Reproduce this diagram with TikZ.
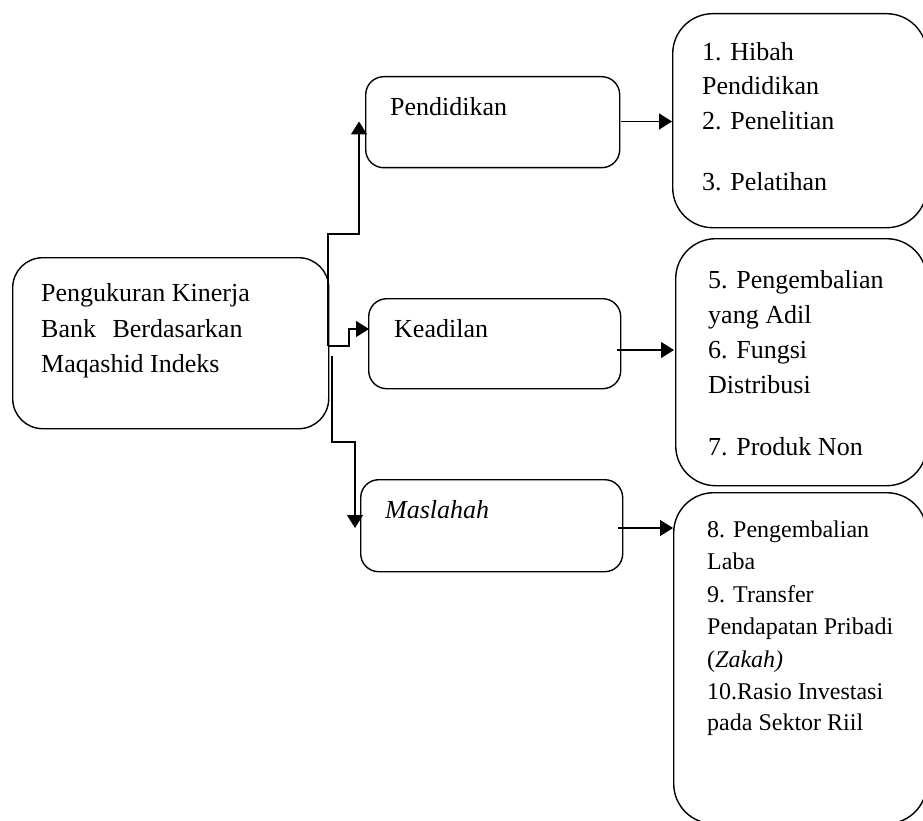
\documentclass[tikz,border=0pt]{standalone}
\usepackage{fontspec}
\setmainfont{Liberation Serif}
\usetikzlibrary{arrows.meta}
\begin{document}
\begin{tikzpicture}[x=1pt,y=-1pt,
  box/.style={draw, line width=1.4pt, anchor=north west, inner sep=0pt},
  small/.style={box, rounded corners=18pt},
  big/.style={box, rounded corners=40pt},
  txt/.style={anchor=base west, inner sep=0pt, font=\fontsize{26}{30}\selectfont},
  txts/.style={anchor=base west, inner sep=0pt, font=\fontsize{24}{28}\selectfont},
  arr/.style={line width=1.4pt, -{Triangle[length=13pt,width=16pt]}},
  ln/.style={line width=1.4pt}]
\path[use as bounding box] (0,0) rectangle (923,821);
\begin{scope}
\clip (0,0) rectangle (923,821);
% boxes
\node[box, rounded corners=30pt, minimum width=316pt, minimum height=171pt] (main) at (12,257) {};
\node[small, minimum width=254pt, minimum height=91pt] (pend) at (365,76) {};
\node[small, minimum width=252pt, minimum height=90pt] (kead) at (368,298) {};
\node[small, minimum width=262pt, minimum height=92pt] (masl) at (360,479) {};
\node[big, minimum width=254pt, minimum height=214pt] (r1) at (672,13) {};
\node[big, minimum width=251pt, minimum height=247pt] (r2) at (675,238) {};
\node[big, minimum width=253pt, minimum height=331pt] (r3) at (673,492) {};
% texts
\node[txt] (t1) at (41,301) {Pengukuran Kinerja};
\node[txt] (t2) at (41,337) {Bank\hspace{10pt} Berdasarkan};
\node[txt] (t3) at (41,372) {Maqashid Indeks};
\node[txt] (tp) at (390,116) {Pendidikan};
\node[txt] (tk) at (394,337) {Keadilan};
\node[txt] (tm) at (385,518) {\itshape Maslahah};
\node[txt] (a1) at (702,61) {1. Hibah};
\node[txt] (a2) at (702,95) {Pendidikan};
\node[txt] (a3) at (702,130) {2. Penelitian};
\node[txt] (a4) at (702,191) {3. Pelatihan};
\node[txt] (b1) at (708,288) {5. Pengembalian};
\node[txt] (b2) at (708,323) {yang Adil};
\node[txt] (b3) at (708,358) {6. Fungsi};
\node[txt] (b4) at (708,393) {Distribusi};
\node[txt] (b5) at (708,455) {7. Produk Non};
\node[txts] (c1) at (707,537) {8. Pengembalian};
\node[txts] (c2) at (707,569) {Laba};
\node[txts] (c3) at (707,602) {9. Transfer};
\node[txts] (c4) at (707,634) {Pendapatan Pribadi};
\node[txts] (c5) at (707,667) {(\textit{Zakah)}};
\node[txts] (c6) at (707,699) {10.Rasio Investasi};
\node[txts] (c7) at (707,730) {pada Sektor Riil};
% connectors
\coordinate (j0) at (328,346);
\coordinate (j1) at (328,234);
\coordinate (pt) at (359,121.5);
\coordinate (k1) at (349,346);
\coordinate (kt) at (369,329);
\coordinate (m0) at (332,356);
\coordinate (m1) at (332,442);
\coordinate (mt) at (355,528);
\draw[arr] (j0) -- (j1) -| (pt);
\draw[arr] (j0) -- (k1) |- (kt);
\draw[arr] (m0) -- (m1) -| (mt);
\coordinate (ps) at (621,121.5);
\coordinate (pe) at (672,121.5);
\coordinate (ks) at (617,350);
\coordinate (ke) at (674,350);
\coordinate (ms) at (618,528);
\coordinate (me) at (673,528);
\draw[arr] (ps) -- (pe);
\draw[arr] (ks) -- (ke);
\draw[arr] (ms) -- (me);
\end{scope}
\end{tikzpicture}
\end{document}
